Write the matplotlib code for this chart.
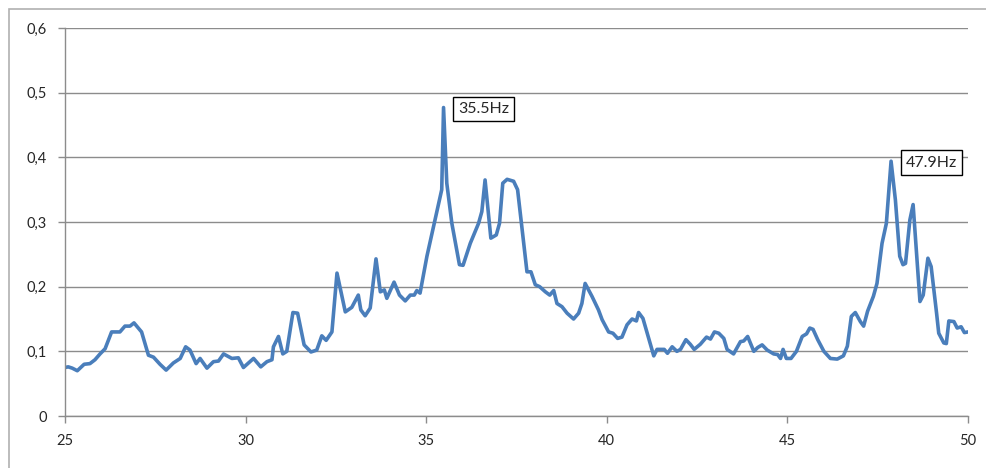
import matplotlib
matplotlib.use("Agg")
import matplotlib.pyplot as plt
from matplotlib.ticker import FuncFormatter
from matplotlib.patches import Rectangle

# Frequency (Hz) and amplitude
freq = [25.00, 25.09, 25.20, 25.34, 25.53, 25.69, 25.83, 25.97, 26.11, 26.29,
        26.52, 26.66, 26.80, 26.91, 27.12, 27.31, 27.45, 27.63, 27.80, 28.00,
        28.19, 28.34, 28.46, 28.63, 28.74, 28.93, 29.11, 29.25, 29.39, 29.62,
        29.80, 29.94, 30.22, 30.42, 30.59, 30.73, 30.77, 30.91, 31.03, 31.14,
        31.31, 31.44, 31.62, 31.81, 31.97, 32.11, 32.23, 32.39, 32.53, 32.76,
        32.94, 33.12, 33.19, 33.31, 33.45, 33.61, 33.73, 33.84, 33.91, 34.11,
        34.26, 34.42, 34.56, 34.67, 34.74, 34.83, 35.02, 35.43, 35.48, 35.57,
        35.71, 35.92, 36.02, 36.22, 36.45, 36.54, 36.63, 36.79, 36.94, 37.03,
        37.12, 37.24, 37.42, 37.53, 37.79, 37.90, 38.02, 38.14, 38.30, 38.42,
        38.53, 38.62, 38.76, 38.90, 39.08, 39.22, 39.31, 39.40, 39.59, 39.77,
        39.87, 40.05, 40.17, 40.30, 40.42, 40.56, 40.70, 40.82, 40.88, 41.00,
        41.30, 41.39, 41.50, 41.59, 41.68, 41.81, 41.94, 42.04, 42.19, 42.31,
        42.42, 42.59, 42.76, 42.87, 42.98, 43.10, 43.24, 43.33, 43.51, 43.70,
        43.79, 43.90, 44.07, 44.18, 44.30, 44.44, 44.62, 44.73, 44.81, 44.88,
        44.97, 45.10, 45.25, 45.41, 45.53, 45.62, 45.71, 45.84, 46.01, 46.19,
        46.38, 46.55, 46.66, 46.77, 46.88, 47.02, 47.11, 47.22, 47.38, 47.48,
        47.62, 47.74, 47.87, 47.99, 48.11, 48.20, 48.27, 48.39, 48.48, 48.57,
        48.67, 48.76, 48.89, 48.98, 49.13, 49.19, 49.33, 49.40, 49.47, 49.61,
        49.70, 49.81, 49.90, 50.00]
amp = [0.075, 0.076, 0.074, 0.070, 0.080, 0.081, 0.087, 0.096, 0.104, 0.130,
       0.130, 0.139, 0.139, 0.144, 0.130, 0.094, 0.091, 0.080, 0.071, 0.082,
       0.089, 0.107, 0.102, 0.081, 0.089, 0.074, 0.084, 0.085, 0.096, 0.089,
       0.090, 0.075, 0.089, 0.076, 0.084, 0.087, 0.107, 0.123, 0.096, 0.100,
       0.160, 0.159, 0.110, 0.099, 0.102, 0.124, 0.117, 0.130, 0.221, 0.161,
       0.168, 0.187, 0.164, 0.155, 0.167, 0.243, 0.192, 0.195, 0.182, 0.207,
       0.187, 0.178, 0.187, 0.187, 0.194, 0.190, 0.247, 0.350, 0.477, 0.360,
       0.298, 0.234, 0.233, 0.267, 0.298, 0.316, 0.365, 0.275, 0.280, 0.298,
       0.360, 0.366, 0.363, 0.350, 0.223, 0.223, 0.203, 0.200, 0.192, 0.187,
       0.194, 0.174, 0.169, 0.159, 0.150, 0.159, 0.174, 0.205, 0.185, 0.164,
       0.149, 0.130, 0.128, 0.120, 0.122, 0.141, 0.150, 0.147, 0.160, 0.151,
       0.093, 0.103, 0.103, 0.103, 0.097, 0.107, 0.100, 0.103, 0.118, 0.111,
       0.103, 0.111, 0.122, 0.119, 0.130, 0.128, 0.120, 0.103, 0.096, 0.115,
       0.116, 0.123, 0.100, 0.106, 0.110, 0.102, 0.096, 0.095, 0.089, 0.103,
       0.089, 0.089, 0.100, 0.123, 0.127, 0.136, 0.134, 0.118, 0.100, 0.089,
       0.088, 0.093, 0.108, 0.154, 0.160, 0.146, 0.139, 0.162, 0.185, 0.205,
       0.267, 0.298, 0.394, 0.334, 0.247, 0.234, 0.236, 0.303, 0.327, 0.257,
       0.177, 0.187, 0.244, 0.231, 0.159, 0.128, 0.113, 0.112, 0.147, 0.146,
       0.136, 0.138, 0.129, 0.130]

peak_labels = ["35.5Hz", "47.9Hz"]
peak_pos = [(35.48, 0.477), (47.87, 0.394)]

plt.rcParams['font.family'] = ['Lato', 'DejaVu Sans']

fig = plt.figure(figsize=(9.86, 4.68), dpi=100)
ax = fig.add_axes([65 / 986, 52 / 468, 903 / 986, 388 / 468])

# light chart border like the Excel chart area
fig.patches.append(Rectangle((9 / 986, -0.1), 1.2, (459 / 468) + 0.1,
                             transform=fig.transFigure, fill=False,
                             edgecolor='#b0b0b0', linewidth=1.2))

ax.plot(freq, amp, color='#4a7ebb', linewidth=2.6, solid_joinstyle='round')

ax.set_xlim(25, 50)
ax.set_ylim(0, 0.6)
ax.set_xticks([25, 30, 35, 40, 45, 50])
ax.set_yticks([0, 0.1, 0.2, 0.3, 0.4, 0.5, 0.6])
ax.yaxis.set_major_formatter(FuncFormatter(
    lambda v, p: '0' if abs(v) < 1e-9 else f'{v:.1f}'.replace('.', ',')))

ax.grid(axis='y', color='#8c8c8c', linewidth=1.0)
ax.set_axisbelow(True)
for s in ['top', 'right']:
    ax.spines[s].set_visible(False)
for s in ['left', 'bottom']:
    ax.spines[s].set_color('#8c8c8c')
    ax.spines[s].set_linewidth(1.0)
ax.tick_params(axis='both', colors='#8c8c8c', labelcolor='#262626',
               labelsize=10.5, length=5, width=1.0)
ax.tick_params(axis='x', pad=8)
ax.tick_params(axis='y', pad=8)

for lab, (x, y) in zip(peak_labels, peak_pos):
    ax.annotate(lab, xy=(x, y), xytext=(10.5, -1), textcoords='offset points',
                ha='left', va='center', fontsize=11.5, color='#262626',
                bbox=dict(boxstyle='square,pad=0.32', fc='white', ec='black', lw=1.0))

fig.savefig('out.png', dpi=100)
